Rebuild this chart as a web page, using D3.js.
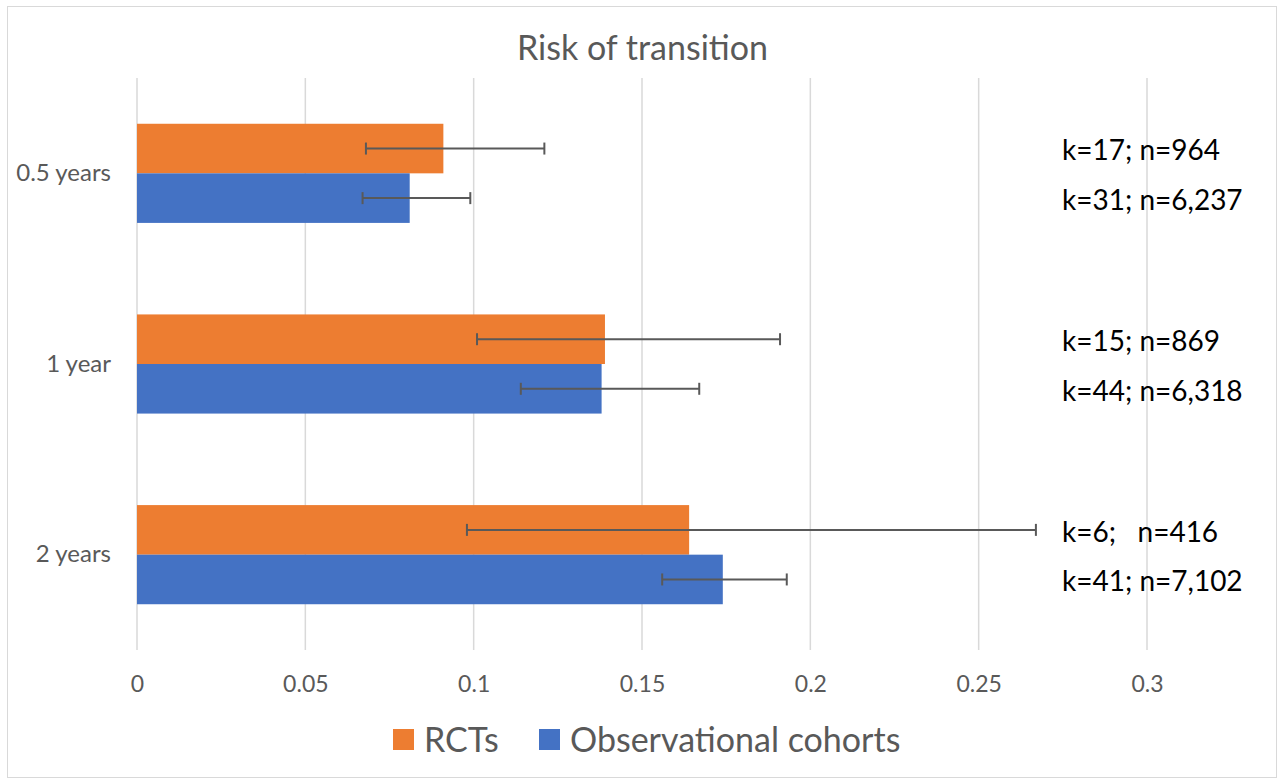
<!DOCTYPE html>
<html>
<head>
<meta charset="utf-8">
<script src="https://cdn.jsdelivr.net/npm/d3@7"></script>
<style>
  body { margin: 0; background: #fff; }
  text { font-family: Lato, "Open Sans", sans-serif; }
</style>
</head>
<body>
<div id="chart"></div>
<script>
var svgWidth = 1285;
var svgHeight = 783;

// data
var categories = ["0.5 years", "1 year", "2 years"];
var seriesNames = ["RCTs", "Observational cohorts"];
var rctValues = [0.091, 0.139, 0.164];
var rctLow = [0.068, 0.101, 0.098];
var rctHigh = [0.121, 0.191, 0.267];
var obsValues = [0.081, 0.138, 0.174];
var obsLow = [0.067, 0.114, 0.156];
var obsHigh = [0.099, 0.167, 0.193];
var rctNotes = ["k=17; n=964", "k=15; n=869", "k=6;   n=416"];
var obsNotes = ["k=31; n=6,237", "k=44; n=6,318", "k=41; n=7,102"];
var xTicks = [0, 0.05, 0.1, 0.15, 0.2, 0.25, 0.3];
var colors = ["#ED7D31", "#4472C4"];

var margin = { top: 78, right: 138, bottom: 133, left: 137 };
var width = svgWidth - margin.left - margin.right;
var height = svgHeight - margin.top - margin.bottom;

var svg = d3.select("#chart")
    .append("svg")
    .attr("width", svgWidth)
    .attr("height", svgHeight);

// chart frame
svg.append("rect")
    .attr("x", 7.5).attr("y", 6.5)
    .attr("width", 1269).attr("height", 771)
    .attr("fill", "#fff")
    .attr("stroke", "#d9d9d9");

svg.append("text")
    .attr("x", svgWidth / 2)
    .attr("y", 60)
    .attr("text-anchor", "middle")
    .attr("fill", "#595959")
    .style("font-size", "34px")
    .text("Risk of transition");

var chartGroup = svg.append("g")
    .attr("transform", `translate(${margin.left}, ${margin.top})`);

var x = d3.scaleLinear().domain([0, 0.3]).range([0, width]);
var y = d3.scaleBand().domain(categories).range([0, height])
    .paddingInner(0.48).paddingOuter(0.24);
var ySub = d3.scaleBand().domain(seriesNames).range([0, y.bandwidth()]);

// gridlines
chartGroup.append("g")
    .selectAll("line")
    .data(xTicks)
    .enter()
    .append("line")
    .attr("x1", d => x(d)).attr("x2", d => x(d))
    .attr("y1", 0).attr("y2", height)
    .attr("stroke", "#d9d9d9")
    .attr("stroke-width", 1.5);

// x tick labels
var bottomAxis = d3.axisBottom(x).tickValues(xTicks).tickFormat(d => String(d)).tickSize(0).tickPadding(26);
var xAxis = chartGroup.append("g")
    .attr("transform", `translate(0, ${height})`)
    .call(bottomAxis);
xAxis.select(".domain").remove();
xAxis.selectAll("text")
    .attr("fill", "#595959")
    .style("font-size", "23px")
    .style("font-family", "Lato, sans-serif");

// category labels
var leftAxis = d3.axisLeft(y).tickSize(0).tickPadding(26);
var yAxis = chartGroup.append("g").call(leftAxis);
yAxis.select(".domain").remove();
yAxis.selectAll("text")
    .attr("fill", "#595959")
    .style("font-size", "24px")
    .style("font-family", "Lato, sans-serif");

var rows = categories.map(function (c, i) {
    return [
        { cat: c, s: seriesNames[0], v: rctValues[i], lo: rctLow[i], hi: rctHigh[i], note: rctNotes[i], color: colors[0] },
        { cat: c, s: seriesNames[1], v: obsValues[i], lo: obsLow[i], hi: obsHigh[i], note: obsNotes[i], color: colors[1] }
    ];
});
var flat = rows.flat();

// bars
chartGroup.append("g")
    .selectAll("rect")
    .data(flat)
    .enter()
    .append("rect")
    .attr("x", x(0))
    .attr("y", d => y(d.cat) + ySub(d.s))
    .attr("width", d => x(d.v) - x(0))
    .attr("height", ySub.bandwidth())
    .attr("fill", d => d.color);

// error bars
var err = chartGroup.append("g")
    .selectAll("g")
    .data(flat)
    .enter()
    .append("g")
    .attr("stroke", "#595959")
    .attr("stroke-width", 2);
err.append("line")
    .attr("x1", d => x(d.lo)).attr("x2", d => x(d.hi))
    .attr("y1", d => y(d.cat) + ySub(d.s) + ySub.bandwidth() / 2)
    .attr("y2", d => y(d.cat) + ySub(d.s) + ySub.bandwidth() / 2);
err.append("line")
    .attr("x1", d => x(d.lo)).attr("x2", d => x(d.lo))
    .attr("y1", d => y(d.cat) + ySub(d.s) + ySub.bandwidth() / 2 - 6)
    .attr("y2", d => y(d.cat) + ySub(d.s) + ySub.bandwidth() / 2 + 6);
err.append("line")
    .attr("x1", d => x(d.hi)).attr("x2", d => x(d.hi))
    .attr("y1", d => y(d.cat) + ySub(d.s) + ySub.bandwidth() / 2 - 6)
    .attr("y2", d => y(d.cat) + ySub(d.s) + ySub.bandwidth() / 2 + 6);

// k / n notes
chartGroup.append("g")
    .selectAll("text")
    .data(flat)
    .enter()
    .append("text")
    .attr("x", 925)
    .attr("y", d => y(d.cat) + ySub(d.s) + ySub.bandwidth() / 2 + 2)
    .attr("dy", "0.35em")
    .attr("fill", "#000")
    .attr("xml:space", "preserve")
    .style("white-space", "pre")
    .style("font-size", "28px")
    .text(d => d.note);

// legend
var legend = svg.append("g").attr("transform", "translate(393, 740)");
var legendX = [0, 146];
var lg = legend.selectAll("g")
    .data(seriesNames)
    .enter()
    .append("g")
    .attr("transform", (d, i) => `translate(${legendX[i]}, 0)`);
lg.append("rect")
    .attr("x", 0).attr("y", -11)
    .attr("width", 21).attr("height", 21)
    .attr("fill", (d, i) => colors[i]);
lg.append("text")
    .attr("x", 31).attr("y", 0)
    .attr("dy", "0.35em")
    .attr("fill", "#595959")
    .style("font-size", "34px")
    .text(d => d);
</script>
</body>
</html>
